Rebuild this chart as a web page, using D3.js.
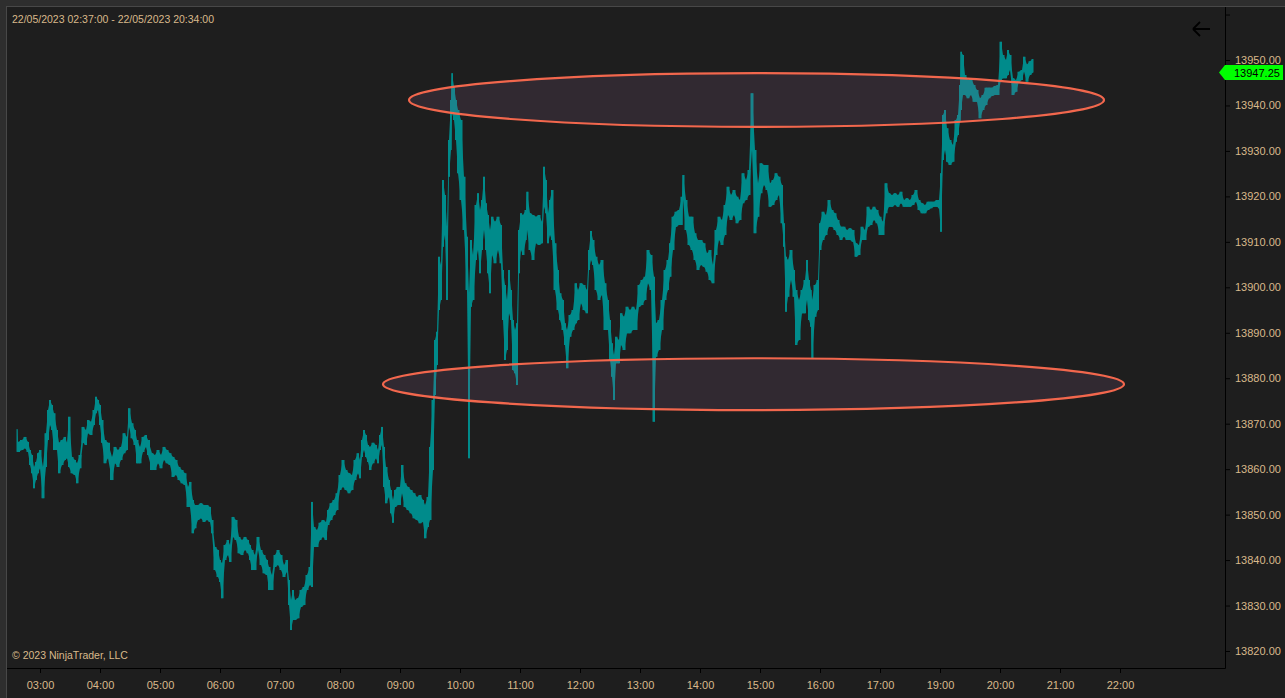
<!DOCTYPE html>
<html lang="en">
<head>
  <meta charset="UTF-8">
  <title>NQ 1 minute</title>
  <script src="https://d3js.org/d3.v7.min.js"></script>
  <style>
    html, body { margin: 0; padding: 0; background: #2e2e2e; overflow: hidden; }
    svg { display: block; }
  </style>
</head>
<body>
  <div id="container"></div>
  <script>
    // minutes since 02:37 (session bars), high and low of each sampled bar
    const barTime = [
      0,1,5,8,11,13,15,17,19,21,
      23,26,29,31,33,35,37,40,42,45,
      48,50,52,55,58,60,63,66,69,71,
      74,77,79,81,83,85,88,91,95,98,
      101,104,107,110,112,115,118,120,123,126,
      129,131,135,138,141,144,147,150,153,156,
      159,162,165,168,171,173,176,178,181,184,
      187,190,193,195,198,201,203,205,208,211,
      213,216,219,222,225,228,231,233,235,238,
      241,244,247,250,252,255,258,261,264,267,
      270,272,274,276,278,281,284,287,290,293,
      295,297,300,303,306,309,311,314,317,320,
      323,326,329,332,335,338,341,343,345,347,
      349,351,353,356,359,361,363,365,367,369,
      372,374,376,378,381,383,385,388,391,394,
      397,400,403,406,408,411,413,416,418,420,
      422,424,426,428,430,432,434,435,437,439,
      441,444,447,450,452,454,456,459,461,463,
      465,467,469,471,473,475,478,481,484,486,
      488,490,492,494,496,498,500,502,504,506,
      509,510,513,516,519,522,525,527,529,531,
      533,535,538,541,543,546,548,550,553,556,
      559,561,564,567,570,572,574,576,579,582,
      585,588,591,593,595,597,599,602,604,607,
      610,613,616,619,622,625,628,631,634,637,
      639,642,645,648,651,653,656,659,662,665,
      666,669,672,675,678,681,684,687,690,693,
      696,699,702,705,708,711,714,717,720,723,
      726,729,732,735,738,741,744,747,750,753,
      756,759,762,765,767,769,771,774,777,779,
      782,785,788,790,792,794,795,798,801,803,
      806,809,812,815,818,821,824,827,830,833,
      836,839,842,845,848,851,854,857,860,863,
      866,869,872,875,878,881,884,887,890,893,
      896,899,902,905,908,911,914,917,920,922,
      924,926,928,930,933,936,939,941,943,944,
      946,948,951,954,957,960,963,966,969,972,
      975,978,981,984,986,989,991,993,996,999,
      1002,1005,1007,1010,1013,1016
    ];
    const barHigh = [
      13868.8,13866.0,13866.4,13867.1,13866.0,13864.2,13863.1,13860.5,13861.6,13863.5,
      13864.2,13860.5,13867.9,13873.0,13875.2,13874.1,13872.3,13868.6,13865.8,13866.4,
      13867.1,13865.8,13871.5,13862.7,13862.0,13861.3,13863.1,13869.3,13868.6,13870.8,
      13870.4,13873.0,13875.9,13875.2,13874.1,13870.8,13866.4,13865.8,13862.7,13864.9,
      13864.2,13864.9,13867.9,13867.1,13873.4,13870.1,13868.6,13866.4,13864.9,13867.1,
      13867.5,13866.4,13863.5,13863.1,13864.2,13863.1,13864.9,13864.2,13863.5,13862.7,
      13862.0,13860.5,13859.8,13859.1,13856.1,13857.2,13853.2,13852.1,13852.1,13852.5,
      13852.1,13852.1,13851.7,13848.8,13842.9,13842.2,13840.0,13839.3,13843.3,13844.4,
      13843.3,13849.5,13848.8,13845.1,13844.4,13845.1,13844.4,13843.3,13842.2,13841.1,
      13845.1,13842.2,13841.1,13840.0,13838.5,13836.7,13841.1,13842.2,13841.1,13838.9,
      13840.0,13835.6,13831.2,13833.4,13831.2,13831.6,13833.4,13834.1,13836.7,13838.5,
      13852.8,13847.3,13846.6,13848.2,13848.8,13848.4,13851.0,13852.5,13853.2,13854.7,
      13858.7,13862.0,13859.8,13859.1,13858.7,13862.0,13863.5,13862.0,13866.4,13868.6,
      13867.5,13865.3,13864.9,13865.8,13865.3,13864.2,13867.5,13869.3,13864.9,13860.5,
      13857.6,13855.4,13853.2,13855.4,13856.1,13856.1,13860.9,13856.9,13856.1,13855.4,
      13854.7,13853.9,13854.3,13853.2,13852.1,13853.9,13864.9,13875.2,13888.4,13890.2,
      13906.7,13904.9,13923.6,13920.3,13913.3,13932.4,13941.2,13947.1,13944.1,13941.2,
      13939.0,13936.8,13924.3,13911.1,13898.7,13910.4,13907.1,13918.1,13920.7,13917.0,
      13919.2,13924.3,13918.5,13915.9,13912.6,13915.5,13914.4,13915.5,13913.7,13903.8,
      13900.5,13897.2,13903.8,13899.4,13892.8,13890.6,13892.1,13912.6,13916.3,13915.9,
      13917.0,13921.0,13916.3,13915.9,13915.5,13915.9,13914.4,13926.5,13923.6,13916.3,
      13919.2,13921.4,13909.7,13903.8,13898.7,13897.2,13892.1,13890.6,13893.9,13895.0,
      13900.9,13899.4,13900.9,13900.5,13899.4,13908.2,13912.4,13910.4,13906.7,13904.9,
      13906.0,13900.9,13897.2,13892.8,13887.7,13885.1,13889.1,13888.4,13894.3,13893.5,
      13895.7,13895.0,13895.7,13895.0,13900.5,13901.6,13902.3,13908.2,13907.1,13902.3,
      13892.1,13892.8,13897.2,13903.8,13906.0,13909.7,13915.5,13916.6,13917.0,13919.9,
      13924.7,13919.2,13915.5,13915.5,13911.9,13910.4,13910.4,13909.7,13907.5,13908.2,
      13904.9,13912.6,13915.5,13914.8,13918.1,13922.1,13920.3,13921.4,13919.9,13919.2,
      13925.1,13923.6,13925.8,13942.7,13930.2,13922.9,13927.3,13926.9,13926.9,13922.9,
      13923.6,13925.1,13924.3,13922.5,13914.1,13906.7,13906.0,13908.2,13903.8,13899.4,
      13897.2,13899.4,13901.6,13906.0,13901.6,13899.4,13897.2,13900.5,13901.6,13914.1,
      13916.6,13915.9,13919.2,13917.0,13916.3,13914.8,13913.3,13913.3,13912.6,13913.0,
      13912.6,13909.7,13909.3,13913.3,13912.6,13917.7,13917.0,13917.7,13917.0,13915.5,
      13914.4,13922.9,13920.7,13920.3,13920.7,13920.3,13921.0,13919.2,13919.6,13919.2,
      13920.3,13921.4,13919.2,13918.5,13918.1,13918.8,13918.8,13918.8,13919.2,13919.2,
      13925.1,13937.9,13939.0,13935.0,13932.4,13931.3,13936.8,13937.9,13944.5,13951.8,
      13951.1,13946.7,13945.6,13946.0,13944.5,13943.4,13941.6,13942.3,13943.9,13943.9,
      13943.9,13944.3,13944.5,13954.0,13951.1,13950.0,13952.2,13951.1,13946.0,13945.6,
      13947.4,13947.8,13950.7,13949.0,13949.7,13950.2
    ];
    const barLow = [
      13863.8,13863.8,13864.2,13864.6,13863.8,13860.9,13859.1,13855.8,13857.6,13859.1,
      13860.2,13853.6,13860.5,13866.4,13869.7,13868.6,13864.2,13864.2,13859.1,13860.9,
      13862.0,13862.4,13860.5,13859.1,13858.7,13856.9,13860.2,13865.8,13865.3,13867.9,
      13867.5,13869.7,13872.3,13873.0,13869.7,13865.8,13861.3,13862.4,13857.6,13861.3,
      13860.5,13862.0,13863.5,13864.2,13869.3,13866.8,13865.3,13861.3,13861.3,13863.8,
      13864.9,13863.1,13859.8,13859.8,13861.3,13860.2,13862.0,13861.3,13860.9,13858.3,
      13858.7,13857.6,13856.9,13856.5,13851.7,13851.7,13845.9,13847.0,13848.8,13849.2,
      13848.4,13848.8,13848.4,13845.9,13837.8,13836.3,13835.2,13831.6,13840.0,13841.1,
      13839.6,13845.1,13844.4,13841.5,13841.1,13842.2,13841.5,13840.0,13837.8,13837.8,
      13842.2,13838.9,13837.1,13836.7,13833.4,13833.4,13838.5,13838.9,13837.8,13836.3,
      13837.4,13830.1,13824.6,13826.8,13826.8,13827.2,13829.7,13830.1,13833.4,13834.5,
      13834.1,13842.9,13842.9,13844.4,13845.1,13844.4,13847.7,13848.8,13849.9,13851.0,
      13855.4,13856.1,13855.4,13854.7,13855.4,13857.6,13859.1,13858.0,13862.7,13864.2,
      13862.7,13861.6,13859.8,13861.3,13862.4,13861.3,13864.2,13865.3,13856.1,13852.5,
      13853.9,13850.3,13848.2,13851.7,13852.1,13852.1,13854.7,13851.7,13851.0,13850.3,
      13849.2,13848.8,13848.1,13848.4,13844.8,13847.3,13848.8,13859.8,13876.3,13882.9,
      13895.0,13897.2,13908.9,13911.5,13897.2,13924.3,13930.2,13938.3,13936.8,13932.4,
      13925.1,13919.2,13912.6,13899.4,13862.4,13895.7,13897.2,13906.0,13908.2,13903.1,
      13908.2,13912.6,13908.2,13903.1,13898.7,13907.1,13905.3,13908.2,13905.3,13892.8,
      13884.0,13886.2,13894.3,13892.8,13881.8,13881.1,13878.5,13903.1,13908.2,13907.1,
      13910.4,13912.6,13908.2,13906.0,13909.7,13909.3,13909.7,13917.7,13916.3,13909.7,
      13911.5,13910.4,13899.4,13895.0,13892.8,13890.6,13887.3,13882.2,13889.1,13890.6,
      13892.1,13892.8,13896.5,13895.0,13894.3,13903.8,13906.0,13904.9,13899.4,13897.2,
      13898.3,13890.6,13890.6,13884.0,13880.3,13875.2,13883.3,13883.3,13887.3,13886.2,
      13889.9,13889.9,13890.6,13890.6,13895.7,13896.1,13897.2,13900.9,13899.4,13870.4,
      13884.7,13886.2,13890.6,13897.2,13899.4,13902.3,13908.2,13913.3,13913.7,13913.7,
      13919.2,13912.6,13909.3,13908.2,13906.0,13903.8,13904.9,13904.5,13903.4,13901.6,
      13900.9,13907.1,13910.4,13909.3,13911.5,13915.9,13914.8,13915.9,13914.1,13914.8,
      13918.5,13919.2,13920.3,13930.2,13911.9,13915.5,13920.7,13922.5,13921.4,13917.7,
      13918.1,13919.2,13920.3,13914.1,13908.9,13894.6,13897.9,13901.6,13897.9,13887.3,
      13888.4,13894.3,13894.3,13897.2,13892.8,13891.3,13884.4,13893.5,13895.0,13908.2,
      13910.4,13911.5,13913.3,13913.3,13912.6,13911.5,13910.4,13911.1,13910.4,13910.4,
      13910.0,13906.7,13907.1,13910.4,13910.4,13913.3,13913.7,13914.8,13914.1,13911.5,
      13911.5,13916.3,13917.7,13917.7,13918.1,13917.7,13918.5,13917.7,13917.7,13917.7,
      13918.1,13918.8,13917.0,13916.3,13916.3,13917.0,13917.4,13917.7,13917.7,13917.4,
      13912.2,13928.0,13930.2,13927.6,13926.9,13927.6,13932.0,13933.5,13936.4,13939.0,
      13942.3,13942.3,13941.6,13942.3,13940.8,13940.8,13937.2,13939.0,13940.1,13941.6,
      13942.1,13942.3,13942.3,13945.6,13946.0,13946.0,13946.7,13947.8,13942.3,13943.0,
      13945.2,13945.6,13947.4,13945.2,13946.7,13947.25
    ];

    const lastPrice = 13947.25;
    const titleText = '22/05/2023 02:37:00 - 22/05/2023 20:34:00';
    const copyrightText = '\u00a9 2023 NinjaTrader, LLC';

    // hourly time labels (no 18:00: session break)
    const timeLabels = ['03:00','04:00','05:00','06:00','07:00','08:00','09:00','10:00','11:00',
      '12:00','13:00','14:00','15:00','16:00','17:00','19:00','20:00','21:00','22:00'];
    const timeLabelBar = [23,83,143,203,263,323,383,443,503,563,623,683,743,803,863,923,983,1043,1103];
    const priceTicks = [13820,13830,13840,13850,13860,13870,13880,13890,13900,13910,13920,13930,13940,13950,13960];

    // drawn ellipses: bounding box corners in (bar, price)
    const ellipseBarStart = [392, 366];
    const ellipseBarEnd = [1087, 1107];
    const ellipsePriceTop = [13947.1, 13884.4];
    const ellipsePriceBottom = [13935.3, 13873.0];

    const W = 1285, H = 698;
    const textColor = '#d9b98b';
    const barColor = '#008b8b';

    const svg = d3.select('#container').append('svg')
      .attr('width', W)
      .attr('height', H)
      .style('font-family', 'Arial, "Liberation Sans", sans-serif')

    // chart panel
    svg.append('rect')
      .attr('x', 6.5).attr('y', 6.5)
      .attr('width', W).attr('height', H)
      .attr('fill', '#1e1e1e')
      .attr('stroke', '#484848')

    const x = d3.scaleLinear().domain([0, 1103]).range([17, 1120])
    const y = d3.scaleLinear().domain([13820, 13950]).range([651, 60])

    const plot = svg.append('g')
    svg.append('clipPath').attr('id', 'clip')
      .append('rect').attr('x', 7).attr('y', 7).attr('width', 1218).attr('height', 661)
    plot.attr('clip-path', 'url(#clip)')

    const bars = barTime.map((t, i) => ({ t: t, hi: barHigh[i], lo: barLow[i] }))

    // body of price action: continuous band plus stepped minute-bar edges
    const band = d3.area()
      .x(d => x(d.t))
      .y0(d => y(d.lo))
      .y1(d => y(d.hi))
    plot.append('path')
      .datum(bars)
      .attr('fill', barColor)
      .attr('d', band.curve(d3.curveLinear))
    plot.append('path')
      .datum(bars)
      .attr('fill', barColor)
      .attr('d', band.curve(d3.curveStep))

    plot.selectAll('line.bar')
      .data(bars)
      .enter()
      .append('line')
        .attr('class', 'bar')
        .attr('x1', d => x(d.t))
        .attr('x2', d => x(d.t))
        .attr('y1', d => y(d.hi))
        .attr('y2', d => y(d.lo))
        .attr('stroke', barColor)
        .attr('stroke-width', 1)

    // ellipses
    plot.selectAll('ellipse')
      .data(ellipseBarStart)
      .enter()
      .append('ellipse')
        .attr('cx', (d, i) => (x(d) + x(ellipseBarEnd[i])) / 2)
        .attr('cy', (d, i) => (y(ellipsePriceTop[i]) + y(ellipsePriceBottom[i])) / 2)
        .attr('rx', (d, i) => (x(ellipseBarEnd[i]) - x(d)) / 2)
        .attr('ry', (d, i) => (y(ellipsePriceBottom[i]) - y(ellipsePriceTop[i])) / 2)
        .attr('fill', 'rgb(150,100,150)')
        .attr('fill-opacity', 0.17)
        .attr('stroke', '#f2674d')
        .attr('stroke-width', 2.2)

    // price axis
    const yAxis = svg.append('g')
      .attr('transform', 'translate(1225,0)')
      .call(d3.axisRight(y)
        .tickValues(priceTicks)
        .tickSize(5)
        .tickPadding(5)
        .tickFormat(d => d > 13950 ? '' : d3.format('.2f')(d)))
    yAxis.select('.domain').attr('d', 'M0.5,7V668.5').attr('stroke', '#000')
    yAxis.selectAll('.tick line').attr('stroke', '#000')
    yAxis.selectAll('text').attr('fill', textColor).style('font-size', '11px')

    // time axis
    const xAxis = svg.append('g')
      .attr('transform', 'translate(0,668)')
      .call(d3.axisBottom(x)
        .tickValues(timeLabelBar)
        .tickSize(5)
        .tickPadding(8)
        .tickFormat((d, i) => timeLabels[i]))
    xAxis.select('.domain').attr('d', 'M7,0.5H1225.5').attr('stroke', '#000')
    xAxis.selectAll('.tick line').attr('stroke', '#000')
    xAxis.selectAll('text').attr('fill', textColor).style('font-size', '11px')

    // last price marker
    const ly = y(lastPrice)
    svg.append('path')
      .attr('d', `M1219,${ly} L1225,${ly - 7.5} H1283 V${ly + 7.5} H1225 Z`)
      .attr('fill', '#00ff00')
    svg.append('text')
      .attr('x', 1234).attr('y', ly + 4)
      .attr('fill', '#000')
      .style('font-size', '11px')
      .text(d3.format('.2f')(lastPrice))

    // back arrow
    svg.append('path')
      .attr('d', 'M1193,29 H1210 M1193,29 L1200,22 M1193,29 L1200,36')
      .attr('stroke', '#000')
      .attr('stroke-width', 1.8)
      .attr('fill', 'none')

    svg.append('text')
      .attr('x', 12).attr('y', 22.5)
      .attr('fill', textColor)
      .style('font-size', '10.5px')
      .text(titleText)

    svg.append('text')
      .attr('x', 12).attr('y', 658.5)
      .attr('fill', textColor)
      .style('font-size', '10.5px')
      .text(copyrightText)
  </script>
</body>
</html>
